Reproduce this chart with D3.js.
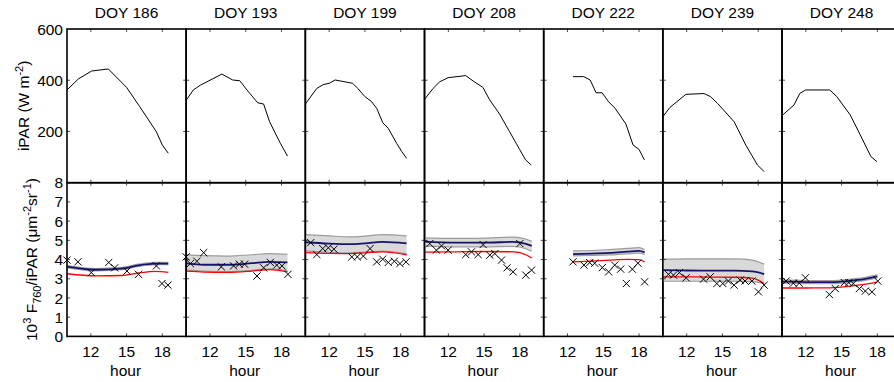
<!DOCTYPE html>
<html>
<head>
<meta charset="utf-8">
<script src="https://cdn.jsdelivr.net/npm/d3@7"></script>
<style>
  html, body { margin: 0; padding: 0; background: #fff; }
  svg { display: block; font-family: "Liberation Sans", Arial, sans-serif; }
</style>
</head>
<body>
<div id="chart"></div>
<script>
// ---- data ----
const DAYS       = [186, 193, 199, 208, 222, 239, 248];
const HOUR_TICKS = [12, 15, 18];
const PAR_TICKS  = [200, 400, 600];
const SIF_TICKS  = [0, 1, 2, 3, 4, 5, 6, 7, 8];

// iPAR (W m-2), one row per day
const IPAR_HOUR = [
    [10.0, 10.95, 12.07, 13.47, 15.0, 16.1, 17.5, 18.0, 18.5],
    [10.05, 10.6, 11.2, 13.0, 13.9, 14.5, 15.1, 16.0, 16.5, 17.0, 17.9, 18.5],
    [10.0, 10.96, 11.5, 12.0, 12.5, 13.97, 14.4, 15.0, 15.57, 15.99, 16.5, 16.96, 17.66, 18.1, 18.5],
    [10.0, 10.72, 11.28, 11.98, 13.46, 14.08, 14.9, 15.47, 16.3, 17.14, 17.98, 18.48, 18.96],
    [12.46, 13.36, 13.9, 14.4, 14.9, 15.45, 16.0, 16.9, 17.5, 18.0, 18.45],
    [10.0, 10.6, 11.93, 13.46, 14.0, 14.58, 15.98, 16.96, 17.94, 18.5],
    [10.05, 11.0, 11.5, 11.99, 14.0, 14.6, 15.73, 16.57, 17.46, 17.96]
];
const IPAR_VALUE = [
    [362, 405, 436, 444, 372, 297, 199, 147, 115],
    [325, 362, 381, 424, 401, 398, 362, 312, 307, 238, 154, 104],
    [307, 368, 383, 388, 401, 388, 368, 336, 316, 290, 234, 212, 154, 121, 95],
    [325, 368, 394, 410, 418, 397, 372, 323, 268, 199, 130, 89, 69],
    [414, 414, 401, 351, 351, 316, 290, 229, 147, 130, 89],
    [258, 294, 345, 348, 336, 310, 238, 147, 69, 43],
    [264, 303, 349, 362, 362, 336, 264, 186, 102, 82]
];

// modelled F760/iPAR: mean (blue), uncertainty band, second model (red)
const MODEL_HOUR = [
    [10, 12.4, 14.6, 16.0, 17.4, 18.5],
    [10, 11.5, 13.5, 15.5, 17, 18.5],
    [10, 12, 13.75, 15, 16.5, 18.5],
    [10, 12.5, 15, 17.5, 18.5, 19],
    [12.46, 14, 15.5, 17, 18, 18.47],
    [10, 12, 14, 16, 17.5, 18.5],
    [10, 12, 14, 16, 17, 18]
];
const MODEL_MEAN = [
    [3.63, 3.47, 3.53, 3.70, 3.79, 3.79],
    [3.80, 3.73, 3.73, 3.81, 3.88, 3.85],
    [4.90, 4.83, 4.80, 4.84, 4.92, 4.84],
    [4.93, 4.88, 4.88, 4.92, 4.82, 4.71],
    [4.28, 4.31, 4.35, 4.41, 4.45, 4.37],
    [3.45, 3.43, 3.42, 3.42, 3.38, 3.24],
    [2.85, 2.83, 2.82, 2.92, 3.00, 3.13]
];
const MODEL_HI = [
    [3.69, 3.53, 3.59, 3.76, 3.85, 3.85],
    [4.26, 4.20, 4.18, 4.25, 4.31, 4.27],
    [5.30, 5.23, 5.18, 5.22, 5.30, 5.23],
    [5.13, 5.10, 5.12, 5.17, 5.07, 4.95],
    [4.45, 4.47, 4.52, 4.58, 4.62, 4.52],
    [4.02, 4.03, 4.04, 4.03, 3.97, 3.76],
    [2.93, 2.91, 2.90, 3.00, 3.08, 3.21]
];
const MODEL_LO = [
    [3.57, 3.41, 3.47, 3.64, 3.73, 3.73],
    [3.46, 3.40, 3.37, 3.44, 3.52, 3.42],
    [4.45, 4.38, 4.35, 4.39, 4.44, 4.30],
    [4.70, 4.66, 4.66, 4.68, 4.56, 4.43],
    [4.19, 4.21, 4.24, 4.30, 4.33, 4.26],
    [2.87, 2.87, 2.87, 2.87, 2.85, 2.74],
    [2.77, 2.75, 2.74, 2.84, 2.92, 3.05]
];
const MODEL_RED = [
    [3.26, 3.15, 3.17, 3.30, 3.38, 3.33],
    [3.40, 3.35, 3.33, 3.40, 3.48, 3.36],
    [4.36, 4.32, 4.31, 4.35, 4.40, 4.25],
    [4.39, 4.40, 4.42, 4.40, 4.25, 4.08],
    [3.88, 3.92, 3.97, 4.01, 4.00, 3.88],
    [3.10, 3.10, 3.09, 3.08, 3.03, 2.75],
    [2.52, 2.52, 2.53, 2.64, 2.72, 2.83]
];

// observed F760/iPAR (crosses)
const OBS_HOUR = [
    [10.0, 10.92, 12.04, 13.5, 14.0, 15.03, 16.0, 17.5, 17.97, 18.47],
    [10.0, 10.35, 10.9, 11.47, 12.95, 13.98, 14.46, 14.9, 15.94, 16.5, 17.06, 17.6, 18.04, 18.54],
    [10.45, 10.96, 11.46, 11.93, 12.4, 13.9, 14.36, 14.87, 15.43, 15.99, 16.49, 16.96, 17.47, 17.94, 18.45],
    [10.44, 11.0, 11.43, 11.98, 13.46, 13.94, 14.5, 14.92, 15.48, 15.9, 16.46, 16.93, 17.43, 18.0, 18.5, 18.98],
    [12.46, 13.38, 13.86, 14.28, 14.92, 15.45, 15.96, 16.46, 16.94, 17.44, 17.91, 18.47],
    [10.47, 10.89, 11.39, 11.95, 13.41, 13.97, 14.53, 15.03, 15.5, 15.98, 16.48, 16.9, 17.47, 18.02, 18.5],
    [10.34, 10.95, 11.45, 11.96, 13.97, 14.47, 15.23, 15.6, 15.98, 16.49, 16.99, 17.55, 18.03]
];
const OBS_VALUE = [
    [3.97, 3.88, 3.32, 3.85, 3.57, 3.40, 3.23, 3.67, 2.75, 2.67],
    [4.14, 3.79, 3.91, 4.36, 3.62, 3.67, 3.76, 3.76, 3.14, 3.57, 3.85, 3.71, 3.67, 3.23],
    [4.88, 4.26, 4.57, 4.61, 4.54, 4.14, 4.14, 4.18, 4.57, 3.88, 4.02, 3.85, 3.91, 3.79, 3.88],
    [4.83, 4.49, 4.71, 4.49, 4.26, 4.40, 4.26, 4.78, 4.23, 4.31, 3.97, 3.57, 3.36, 4.83, 3.19, 3.45],
    [3.88, 3.71, 3.84, 3.81, 3.58, 3.36, 3.71, 3.50, 2.75, 3.50, 3.81, 2.84],
    [3.23, 3.19, 3.32, 3.05, 2.98, 3.10, 2.75, 2.75, 2.88, 2.67, 2.93, 2.88, 2.88, 2.32, 2.67],
    [2.88, 2.77, 2.77, 3.05, 2.18, 2.49, 2.80, 2.80, 2.75, 2.49, 2.36, 2.32, 2.88]
];

// ---- layout ----
const W = 894, H = 382;
const LEFT = 67, PANEL_W = 119.17;
const TOP = 29, PANEL_H = 153.7;
const FONT = '15.5px';
const TICK = 3;

const C_MEAN = '#15156e';
const C_RED  = '#ff0000';
const C_BAND = '#d9d9d9';
const C_EDGE = '#9c9c9c';

const svg = d3.select('#chart').append('svg')
    .attr('width', W)
    .attr('height', H);

const yPar = d3.scaleLinear().domain([0, 600]).range([TOP + PANEL_H, TOP]);
const ySif = d3.scaleLinear().domain([0, 8]).range([TOP + 2 * PANEL_H, TOP + PANEL_H]);

DAYS.forEach((day, i) => {
    const x0 = LEFT + i * PANEL_W;
    const x = d3.scaleLinear().domain([10, 20]).range([x0, x0 + PANEL_W]);
    const g = svg.append('g');

    // title
    g.append('text')
        .attr('x', x0 + PANEL_W / 2).attr('y', 18.3)
        .attr('text-anchor', 'middle').style('font-size', FONT)
        .text(`DOY ${day}`);

    // --- top: iPAR ---
    const parLine = d3.line().x(d => x(d[0])).y(d => yPar(d[1]));
    g.append('path')
        .attr('d', parLine(d3.zip(IPAR_HOUR[i], IPAR_VALUE[i])))
        .attr('fill', 'none').attr('stroke', '#000').attr('stroke-width', 1);

    // --- bottom: F760/iPAR ---
    const rows = MODEL_HOUR[i].map((h, k) => ({
        h, mean: MODEL_MEAN[i][k], hi: MODEL_HI[i][k], lo: MODEL_LO[i][k], red: MODEL_RED[i][k]
    }));
    const curve = d3.curveMonotoneX;
    const area = d3.area().curve(curve)
        .x(d => x(d.h)).y0(d => ySif(d.lo)).y1(d => ySif(d.hi));
    const line = key => d3.line().curve(curve).x(d => x(d.h)).y(d => ySif(d[key]));

    g.append('path').attr('d', area(rows)).attr('fill', C_BAND);
    ['hi', 'lo'].forEach(k => {
        g.append('path').attr('d', line(k)(rows))
            .attr('fill', 'none').attr('stroke', C_EDGE).attr('stroke-width', 1.2);
    });
    g.append('path').attr('d', line('red')(rows))
        .attr('fill', 'none').attr('stroke', C_RED).attr('stroke-width', 1.3);
    g.append('path').attr('d', line('mean')(rows))
        .attr('fill', 'none').attr('stroke', C_MEAN).attr('stroke-width', 1.8);

    // crosses
    const s = 3.6;
    g.selectAll('.obs').data(d3.zip(OBS_HOUR[i], OBS_VALUE[i])).enter().append('path')
        .attr('class', 'obs')
        .attr('d', d => {
            const cx = x(d[0]), cy = ySif(d[1]);
            return `M${cx - s},${cy - s}L${cx + s},${cy + s}M${cx - s},${cy + s}L${cx + s},${cy - s}`;
        })
        .attr('fill', 'none').attr('stroke', '#000').attr('stroke-width', 1);

    drawFrame(g, x, yPar, PAR_TICKS.filter(t => t < 600));
    drawFrame(g, x, ySif, SIF_TICKS.filter(t => t > 0 && t < 8));

    // x tick labels + label
    g.selectAll('.xt').data(HOUR_TICKS).enter().append('text')
        .attr('class', 'xt')
        .attr('x', d => x(d)).attr('y', TOP + 2 * PANEL_H + 20.8)
        .attr('text-anchor', 'middle').style('font-size', FONT)
        .text(d => d);
    g.append('text')
        .attr('x', x0 + PANEL_W / 2 - 1).attr('y', 375.5)
        .attr('text-anchor', 'middle').style('font-size', FONT)
        .text('hour');
});

// y tick labels (first panel only)
svg.selectAll('.yp').data(PAR_TICKS).enter().append('text')
    .attr('x', LEFT - 4).attr('y', d => yPar(d)).attr('dy', '0.36em')
    .attr('text-anchor', 'end').style('font-size', FONT).text(d => d);
svg.selectAll('.ys').data(SIF_TICKS).enter().append('text')
    .attr('x', LEFT - 4).attr('y', d => ySif(d)).attr('dy', '0.36em')
    .attr('text-anchor', 'end').style('font-size', FONT).text(d => d);

// y axis titles
const t1 = svg.append('text')
    .attr('transform', `translate(28.5,${TOP + PANEL_H / 2}) rotate(-90)`)
    .attr('text-anchor', 'middle').style('font-size', FONT);
t1.append('tspan').text('iPAR (W m');
t1.append('tspan').attr('dy', -6).style('font-size', '11px').text('-2');
t1.append('tspan').attr('dy', 6).text(')');

const t2 = svg.append('text')
    .attr('transform', `translate(37,${TOP + 1.5 * PANEL_H}) rotate(-90)`)
    .attr('text-anchor', 'middle').style('font-size', FONT);
t2.append('tspan').text('10');
t2.append('tspan').attr('dy', -6).style('font-size', '11px').text('3');
t2.append('tspan').attr('dy', 6).text(' F');
t2.append('tspan').attr('dy', 4).style('font-size', '11px').text('760');
t2.append('tspan').attr('dy', -4).text('/iPAR (\u03bcm');
t2.append('tspan').attr('dy', -6).style('font-size', '11px').text('-2');
t2.append('tspan').attr('dy', 6).text('sr');
t2.append('tspan').attr('dy', -6).style('font-size', '11px').text('-1');
t2.append('tspan').attr('dy', 6).text(')');

function drawFrame(g, x, y, yTicks) {
    const [xa, xb] = x.range();
    const [yb, ya] = y.range();
    const tk = g.append('g').attr('stroke', '#222').attr('stroke-width', 0.8);
    HOUR_TICKS.forEach(h => {
        tk.append('line').attr('x1', x(h)).attr('x2', x(h)).attr('y1', ya).attr('y2', ya + TICK);
        tk.append('line').attr('x1', x(h)).attr('x2', x(h)).attr('y1', yb).attr('y2', yb - TICK);
    });
    yTicks.forEach(v => {
        tk.append('line').attr('x1', xa).attr('x2', xa + TICK).attr('y1', y(v)).attr('y2', y(v));
        tk.append('line').attr('x1', xb).attr('x2', xb - TICK).attr('y1', y(v)).attr('y2', y(v));
    });
    g.append('rect')
        .attr('x', xa).attr('y', ya).attr('width', xb - xa).attr('height', yb - ya)
        .attr('fill', 'none').attr('stroke', '#000').attr('stroke-width', 1.6);
}
</script>
</body>
</html>
